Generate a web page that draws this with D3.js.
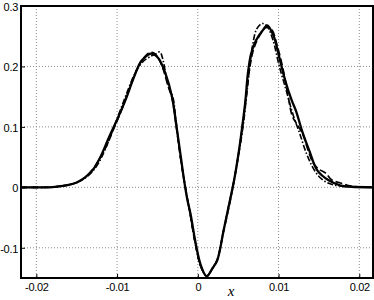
<!DOCTYPE html>
<html>
<head>
<meta charset="utf-8">
<script src="https://cdn.jsdelivr.net/npm/d3@7"></script>
<style>
  body { margin: 0; background: #fff; }
  svg { display: block; }
  .tick text { font-family: "Liberation Sans", Arial, sans-serif; font-size: 11px; fill: #000; letter-spacing: -0.3px; }
</style>
</head>
<body>
<svg id="chart" width="374" height="300"></svg>
<script>
// data

var xTicks = [-0.02, -0.01, 0, 0.01, 0.02];
var xTickLabels = ["-0.02", "-0.01", "0", "0.01", "0.02"];
var yTicks = [-0.1, 0, 0.1, 0.2, 0.3];
var yTickLabels = ["-0.1", "0", "0.1", "0.2", "0.3"];

// solid curve
var xSolid = [-0.0219, -0.018, -0.016, -0.015, -0.014, -0.013, -0.012, -0.011, -0.010, -0.009, -0.008, -0.0071, -0.0065, -0.0059,
  -0.0053, -0.0048, -0.0040, -0.0032, -0.0026, -0.0021, -0.0017, -0.0013, -0.0009, -0.0002, 0.0004, 0.0011, 0.0018, 0.0024,
  0.0032, 0.0038, 0.0045, 0.0051, 0.0055, 0.0059, 0.0062, 0.0066, 0.0072, 0.0080, 0.0086, 0.0094, 0.0100, 0.0108, 0.0116,
  0.0122, 0.0129, 0.0138, 0.0148, 0.0162, 0.0177, 0.0190, 0.0217];
var ySolid = [0, 0.0005, 0.004, 0.008, 0.016, 0.029, 0.052, 0.083, 0.112, 0.143, 0.179, 0.207, 0.216, 0.221,
  0.219, 0.212, 0.188, 0.150, 0.097, 0.050, 0.012, -0.020, -0.044, -0.097, -0.130, -0.147, -0.134, -0.121,
  -0.071, -0.033, 0.012, 0.061, 0.100, 0.144, 0.188, 0.221, 0.243, 0.259, 0.268, 0.250, 0.220, 0.178, 0.145,
  0.125, 0.094, 0.061, 0.028, 0.0116, 0.003, 0.001, 0];

// dashed curve
var xDash = [-0.0219, -0.018, -0.016, -0.015, -0.014, -0.013, -0.0122, -0.0114, -0.0105, -0.0095, -0.0085, -0.0075, -0.0067,
  -0.0060, -0.0054, -0.0049, -0.0043, -0.0037, -0.0032, -0.0027, -0.0022, -0.0017, -0.0010, -0.0003, 0.0004, 0.0011,
  0.0018, 0.0024, 0.0032, 0.0039, 0.0045, 0.0051, 0.0056, 0.0060, 0.0064, 0.0069, 0.0076, 0.0084, 0.0091, 0.0098,
  0.0106, 0.0112, 0.0117, 0.0123, 0.0130, 0.0137, 0.0143, 0.0150, 0.0158, 0.0166, 0.0175, 0.0190, 0.0217];
var yDash = [0, 0.0005, 0.004, 0.008, 0.016, 0.030, 0.046, 0.066, 0.094, 0.126, 0.162, 0.196, 0.214,
  0.223, 0.222, 0.214, 0.196, 0.168, 0.148, 0.104, 0.054, 0.012, -0.040, -0.094, -0.132, -0.147,
  -0.135, -0.120, -0.072, -0.030, 0.012, 0.060, 0.108, 0.152, 0.195, 0.228, 0.250, 0.264, 0.262, 0.236,
  0.193, 0.150, 0.118, 0.104, 0.088, 0.060, 0.040, 0.030, 0.024, 0.012, 0.008, 0.002, 0];

// dash-dot curve
var xDashDot = [-0.0219, -0.018, -0.016, -0.015, -0.014, -0.013, -0.0123, -0.0115, -0.0106, -0.0097, -0.0088, -0.0078, -0.0068,
  -0.0058, -0.0052, -0.0047, -0.0043, -0.0039, -0.0035, -0.0031, -0.0027, -0.0022, -0.0017, -0.0010, -0.0003, 0.0004,
  0.0011, 0.0018, 0.0024, 0.0032, 0.0038, 0.0045, 0.0051, 0.0056, 0.0060, 0.0064, 0.0068, 0.0073, 0.0080, 0.0086,
  0.0093, 0.0101, 0.0110, 0.0118, 0.0126, 0.0134, 0.0142, 0.0150, 0.0160, 0.0172, 0.0190, 0.0217];
var yDashDot = [0, 0.0005, 0.004, 0.008, 0.015, 0.027, 0.040, 0.062, 0.092, 0.124, 0.156, 0.188, 0.208,
  0.217, 0.221, 0.224, 0.210, 0.182, 0.162, 0.150, 0.110, 0.055, 0.012, -0.040, -0.094, -0.132,
  -0.147, -0.134, -0.120, -0.071, -0.032, 0.012, 0.058, 0.100, 0.146, 0.195, 0.236, 0.262, 0.271, 0.266,
  0.244, 0.200, 0.158, 0.120, 0.090, 0.058, 0.034, 0.018, 0.008, 0.003, 0.001, 0];

var svg = d3.select("#chart");
var plotL = 21, plotR = 373, plotT = 6, plotB = 278;

var x = d3.scaleLinear().domain([-0.0219, 0.0217]).range([plotL, plotR]);
var y = d3.scaleLinear().domain([-0.15, 0.3]).range([plotB, plotT]);

// dotted grid
var grid = svg.append("g").attr("class", "grid");
grid.selectAll("line.vx")
  .data(xTicks)
  .enter().append("line")
  .attr("x1", function(d) { return x(d); })
  .attr("x2", function(d) { return x(d); })
  .attr("y1", plotT).attr("y2", plotB)
  .attr("stroke", "#8a8a8a").attr("stroke-width", 1)
  .attr("stroke-dasharray", "1,2");
grid.selectAll("line.hy")
  .data(yTicks.filter(function(d) { return d < 0.3; }))
  .enter().append("line")
  .attr("y1", function(d) { return y(d); })
  .attr("y2", function(d) { return y(d); })
  .attr("x1", plotL).attr("x2", plotR)
  .attr("stroke", "#8a8a8a").attr("stroke-width", 1)
  .attr("stroke-dasharray", "1,2");

// curves
var series = [
  { xs: xSolid, ys: ySolid, w: 2.3, dash: null },
  { xs: xDash, ys: yDash, w: 1.7, dash: "7,3" },
  { xs: xDashDot, ys: yDashDot, w: 1.6, dash: "6,2,1.5,2" }
];

var line = d3.line()
  .x(function(d) { return x(d[0]); })
  .y(function(d) { return y(d[1]); })
  .curve(d3.curveCatmullRom.alpha(0.5));

svg.append("clipPath").attr("id", "clip")
  .append("rect").attr("x", plotL).attr("y", plotT)
  .attr("width", plotR - plotL).attr("height", plotB - plotT);

series.slice().reverse().forEach(function(s) {
  var pts = s.xs.map(function(v, i) { return [v, s.ys[i]]; });
  svg.append("path")
    .attr("clip-path", "url(#clip)")
    .attr("d", line(pts))
    .attr("fill", "none")
    .attr("stroke", "#000")
    .attr("stroke-width", s.w)
    .attr("stroke-linejoin", "round")
    .attr("stroke-dasharray", s.dash);
});

// axes
var xAxis = d3.axisBottom(x).tickValues(xTicks)
  .tickFormat(function(d, i) { return xTickLabels[i]; })
  .tickSizeInner(-4).tickSizeOuter(0).tickPadding(5);
var gx = svg.append("g").attr("transform", "translate(0," + plotB + ")").call(xAxis);
gx.select(".domain").remove();
gx.selectAll(".tick line").attr("stroke", "#000");

var yAxis = d3.axisLeft(y).tickValues(yTicks)
  .tickFormat(function(d, i) { return yTickLabels[i]; })
  .tickSizeInner(-4).tickSizeOuter(0).tickPadding(3);
var gy = svg.append("g").attr("transform", "translate(" + plotL + ",0)").call(yAxis);
gy.select(".domain").remove();
gy.selectAll(".tick line").attr("stroke", "#000");
gy.selectAll(".tick text").attr("dy", "0.4em");

// frame
svg.append("rect")
  .attr("x", plotL).attr("y", plotT)
  .attr("width", plotR - plotL).attr("height", plotB - plotT)
  .attr("fill", "none").attr("stroke", "#000").attr("stroke-width", 2);

// axis label
svg.append("text")
  .attr("x", 231).attr("y", 296)
  .attr("text-anchor", "middle")
  .attr("font-family", "'Liberation Serif', 'DejaVu Serif', serif")
  .attr("font-style", "italic")
  .attr("font-size", 15)
  .text("x");
</script>
</body>
</html>
